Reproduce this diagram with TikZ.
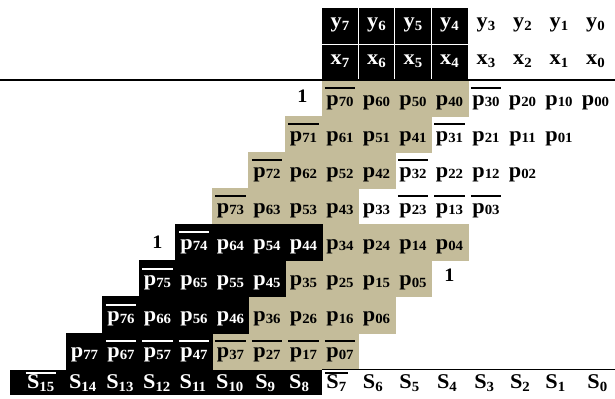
\documentclass[tikz,border=0pt]{standalone}
\usepackage{fontspec}
\setmainfont[FakeStretch=1.06]{Liberation Serif}
\usepackage{tikz}
\definecolor{tanbg}{RGB}{196,188,154}
\newcommand{\bitsub}[3][3pt]{#2\raisebox{-#1}{\fontsize{14}{14}\selectfont#3}}
\newcommand{\pbit}[1]{\bitsub[1.5pt]{p}{#1}}
\newcommand{\ovr}[2][16pt]{\setbox0\hbox{#2}\rlap{\hspace{-1.5pt}\rule[#1]{\dimexpr\wd0+3pt\relax}{2pt}}\box0}

\begin{document}
\begin{tikzpicture}[x={(-36.5pt,0pt)}, y={(0pt,-36.1pt)},
    bit/.style = {anchor=base, inner sep=0pt, font=\bfseries\fontsize{21}{21}\selectfont},
    wbit/.style = {bit, text=white},
    one/.style = {bit, font=\bfseries\fontsize{19}{19}\selectfont}]
        \useasboundingbox (16.315,-2.909) rectangle (-0.534,8.116);
        \filldraw[tanbg, line width=.5pt] (7.5,-0.69) rectangle (3.5,0.31);
        \filldraw[tanbg, line width=.5pt] (8.5,0.31) rectangle (4.5,1.31);
        \filldraw[tanbg, line width=.5pt] (9.5,1.31) rectangle (5.5,2.31);
        \filldraw[tanbg, line width=.5pt] (10.5,2.31) rectangle (6.5,3.31);
        \filldraw[tanbg, line width=.5pt] (7.5,3.31) rectangle (3.5,4.31);
        \filldraw[tanbg, line width=.5pt] (8.5,4.31) rectangle (4.5,5.31);
        \filldraw[tanbg, line width=.5pt] (9.5,5.31) rectangle (5.5,6.31);
        \filldraw[tanbg, line width=.5pt] (10.5,6.31) rectangle (6.5,7.31);
        \filldraw[line width=.5pt] (11.5,3.31) rectangle (7.5,4.31);
        \filldraw[line width=.5pt] (12.5,4.31) rectangle (8.5,5.31);
        \filldraw[line width=.5pt] (13.5,5.31) rectangle (9.5,6.31);
        \filldraw[line width=.5pt] (14.5,6.31) rectangle (10.5,7.31);
        \fill (7.5,-2.69) rectangle (3.5,-0.69);
        \draw[white, line width=1pt] (6.5,-2.69) -- (6.5,-0.72);
        \draw[white, line width=1pt] (5.5,-2.69) -- (5.5,-0.72);
        \draw[white, line width=1pt] (4.5,-2.69) -- (4.5,-0.72);
        \draw[white, line width=1pt] (7.5,-1.69) -- (3.5,-1.69);
        \draw[line width=1.3pt] (16.315,-0.69) -- (-0.534,-0.69);
        \fill (16.04,7.34) rectangle (7.5,8.04);
        \draw[line width=1.3pt] (7.5,7.33) -- (-0.534,7.33);
        \node[wbit] (y7) at (7,-2.14) {\bitsub{y}{7}};
        \node[wbit] (y6) at (6,-2.14) {\bitsub{y}{6}};
        \node[wbit] (y5) at (5,-2.14) {\bitsub{y}{5}};
        \node[wbit] (y4) at (4,-2.14) {\bitsub{y}{4}};
        \node[bit] (y3) at (3,-2.14) {\bitsub{y}{3}};
        \node[bit] (y2) at (2,-2.14) {\bitsub{y}{2}};
        \node[bit] (y1) at (1,-2.14) {\bitsub{y}{1}};
        \node[bit] (y0) at (0,-2.14) {\bitsub{y}{0}};
        \node[wbit] (x7) at (7,-1.11) {\bitsub{x}{7}};
        \node[wbit] (x6) at (6,-1.11) {\bitsub{x}{6}};
        \node[wbit] (x5) at (5,-1.11) {\bitsub{x}{5}};
        \node[wbit] (x4) at (4,-1.11) {\bitsub{x}{4}};
        \node[bit] (x3) at (3,-1.11) {\bitsub{x}{3}};
        \node[bit] (x2) at (2,-1.11) {\bitsub{x}{2}};
        \node[bit] (x1) at (1,-1.11) {\bitsub{x}{1}};
        \node[bit] (x0) at (0,-1.11) {\bitsub{x}{0}};
        \node[one] (one0) at (8.03,-0.06) {1};
        \node[bit] (p70) at (7,0) {\ovr{\pbit{70}}};
        \node[bit] (p60) at (6,0) {\pbit{60}};
        \node[bit] (p50) at (5,0) {\pbit{50}};
        \node[bit] (p40) at (4,0) {\pbit{40}};
        \node[bit] (p30) at (3,0) {\ovr{\pbit{30}}};
        \node[bit] (p20) at (2,0) {\pbit{20}};
        \node[bit] (p10) at (1,0) {\pbit{10}};
        \node[bit] (p00) at (0,0) {\pbit{00}};
        \node[bit] (p71) at (8,1) {\ovr{\pbit{71}}};
        \node[bit] (p61) at (7,1) {\pbit{61}};
        \node[bit] (p51) at (6,1) {\pbit{51}};
        \node[bit] (p41) at (5,1) {\pbit{41}};
        \node[bit] (p31) at (4,1) {\ovr{\pbit{31}}};
        \node[bit] (p21) at (3,1) {\pbit{21}};
        \node[bit] (p11) at (2,1) {\pbit{11}};
        \node[bit] (p01) at (1,1) {\pbit{01}};
        \node[bit] (p72) at (9,2) {\ovr{\pbit{72}}};
        \node[bit] (p62) at (8,2) {\pbit{62}};
        \node[bit] (p52) at (7,2) {\pbit{52}};
        \node[bit] (p42) at (6,2) {\pbit{42}};
        \node[bit] (p32) at (5,2) {\ovr{\pbit{32}}};
        \node[bit] (p22) at (4,2) {\pbit{22}};
        \node[bit] (p12) at (3,2) {\pbit{12}};
        \node[bit] (p02) at (2,2) {\pbit{02}};
        \node[bit] (p73) at (10,3) {\ovr{\pbit{73}}};
        \node[bit] (p63) at (9,3) {\pbit{63}};
        \node[bit] (p53) at (8,3) {\pbit{53}};
        \node[bit] (p43) at (7,3) {\pbit{43}};
        \node[bit] (p33) at (6,3) {\pbit{33}};
        \node[bit] (p23) at (5,3) {\ovr{\pbit{23}}};
        \node[bit] (p13) at (4,3) {\ovr{\pbit{13}}};
        \node[bit] (p03) at (3,3) {\ovr{\pbit{03}}};
        \node[one] (one4) at (12,3.98) {1};
        \node[wbit] (p74) at (11,4) {\ovr{\pbit{74}}};
        \node[wbit] (p64) at (10,4) {\pbit{64}};
        \node[wbit] (p54) at (9,4) {\pbit{54}};
        \node[wbit] (p44) at (8,4) {\pbit{44}};
        \node[bit] (p34) at (7,4) {\pbit{34}};
        \node[bit] (p24) at (6,4) {\pbit{24}};
        \node[bit] (p14) at (5,4) {\pbit{14}};
        \node[bit] (p04) at (4,4) {\pbit{04}};
        \node[wbit] (p75) at (12,5) {\ovr{\pbit{75}}};
        \node[wbit] (p65) at (11,5) {\pbit{65}};
        \node[wbit] (p55) at (10,5) {\pbit{55}};
        \node[wbit] (p45) at (9,5) {\pbit{45}};
        \node[bit] (p35) at (8,5) {\pbit{35}};
        \node[bit] (p25) at (7,5) {\pbit{25}};
        \node[bit] (p15) at (6,5) {\pbit{15}};
        \node[bit] (p05) at (5,5) {\pbit{05}};
        \node[one] (one5) at (4,4.9) {1};
        \node[wbit] (p76) at (13,6) {\ovr{\pbit{76}}};
        \node[wbit] (p66) at (12,6) {\pbit{66}};
        \node[wbit] (p56) at (11,6) {\pbit{56}};
        \node[wbit] (p46) at (10,6) {\pbit{46}};
        \node[bit] (p36) at (9,6) {\pbit{36}};
        \node[bit] (p26) at (8,6) {\pbit{26}};
        \node[bit] (p16) at (7,6) {\pbit{16}};
        \node[bit] (p06) at (6,6) {\pbit{06}};
        \node[wbit] (p77) at (14,7) {\pbit{77}};
        \node[wbit] (p67) at (13,7) {\ovr{\pbit{67}}};
        \node[wbit] (p57) at (12,7) {\ovr{\pbit{57}}};
        \node[wbit] (p47) at (11,7) {\ovr{\pbit{47}}};
        \node[bit] (p37) at (10,7) {\ovr{\pbit{37}}};
        \node[bit] (p27) at (9,7) {\ovr{\pbit{27}}};
        \node[bit] (p17) at (8,7) {\ovr{\pbit{17}}};
        \node[bit] (p07) at (7,7) {\ovr{\pbit{07}}};
        \node[wbit] (s15) at (15.2,7.85) {\ovr[14pt]{\bitsub{S}{15}}};
        \node[wbit] (s14) at (14.05,7.85) {\bitsub{S}{14}};
        \node[wbit] (s13) at (13.03,7.85) {\bitsub{S}{13}};
        \node[wbit] (s12) at (12.02,7.85) {\bitsub{S}{12}};
        \node[wbit] (s11) at (11.03,7.85) {\bitsub{S}{11}};
        \node[wbit] (s10) at (10.02,7.85) {\bitsub{S}{10}};
        \node[wbit] (s9) at (9.05,7.85) {\bitsub{S}{9}};
        \node[wbit] (s8) at (8.12,7.85) {\bitsub{S}{8}};
        \node[bit] (s7) at (7.1,7.85) {\ovr[14pt]{\bitsub{S}{7}}};
        \node[bit] (s6) at (6.1,7.85) {\bitsub{S}{6}};
        \node[bit] (s5) at (5.1,7.85) {\bitsub{S}{5}};
        \node[bit] (s4) at (4.07,7.85) {\bitsub{S}{4}};
        \node[bit] (s3) at (3.05,7.85) {\bitsub{S}{3}};
        \node[bit] (s2) at (2.07,7.85) {\bitsub{S}{2}};
        \node[bit] (s1) at (1.1,7.85) {\bitsub{S}{1}};
        \node[bit] (s0) at (-0.05,7.85) {\bitsub{S}{0}};
      \end{tikzpicture}
\end{document}
